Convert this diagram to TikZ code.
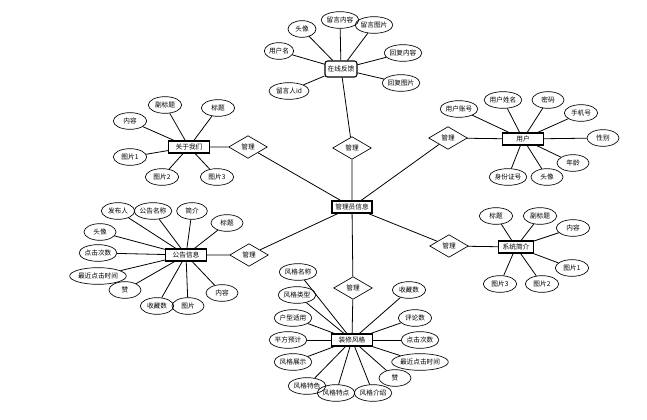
\documentclass[tikz,border=0pt]{standalone}
\usepackage{fontspec}
\newfontfamily\cjk{Noto Sans CJK SC}
\usetikzlibrary{shapes.geometric}

\begin{document}
\begin{tikzpicture}[
        x=0.75pt, y=-0.75pt,
        entity/.style={rectangle, draw, line width=0.8pt, minimum width=31pt, minimum height=9pt, inner sep=1pt, font=\cjk\fontsize{5}{6}\selectfont},
        attr/.style={ellipse, draw, line width=0.5pt, minimum width=27pt, minimum height=12.5pt, inner sep=0pt, font=\cjk\fontsize{5}{6}\selectfont},
        rel/.style={diamond, draw, line width=0.5pt, minimum width=29pt, minimum height=17pt, inner sep=0pt, font=\cjk\fontsize{5}{6}\selectfont},
        link/.style={line width=0.6pt}
    ]
        \useasboundingbox (0,0) rectangle (647,420);

        % centre
        \node[entity, minimum width=30pt] (admin) at (352,207) {管理员信息};

        % online feedback
        \node[entity, rounded corners=2pt, minimum width=24pt, minimum height=12pt] (fb) at (341,69) {在线反馈};
        \node[rel] (rfb) at (352,148) {管理};
        \node[attr, minimum width=22pt] (fbname) at (279,51) {用户名};
        \node[attr, minimum width=21pt] (fbhead) at (302,29) {头像};
        \node[attr] (fbtext) at (340,20) {留言内容};
        \node[attr] (fbpic) at (374,25) {留言图片};
        \node[attr] (fbreply) at (403,53) {回复内容};
        \node[attr] (fbrpic) at (401,83) {回复图片};
        \node[attr, minimum width=30pt] (fbuid) at (289,91) {留言人id};

        % user
        \node[entity] (user) at (523,139) {用户};
        \node[rel] (ruser) at (448,138) {管理};
        \node[attr] (uacc) at (459,109) {用户账号};
        \node[attr] (uname) at (503,100) {用户姓名};
        \node[attr, minimum width=24pt] (upwd) at (548,100) {密码};
        \node[attr, minimum width=25pt] (uphone) at (581,113) {手机号};
        \node[attr, minimum width=24pt] (usex) at (603,138) {性别};
        \node[attr, minimum width=24pt] (uage) at (573,163) {年龄};
        \node[attr, minimum width=24pt] (uhead) at (547,177) {头像};
        \node[attr] (uid) at (508,177) {身份证号};

        % about us
        \node[entity] (about) at (189,147) {关于我们};
        \node[rel] (rabout) at (248,147) {管理};
        \node[attr, minimum width=25pt] (abtext) at (130,121) {内容};
        \node[attr, minimum width=25pt] (absub) at (165,105) {副标题};
        \node[attr, minimum width=25pt] (abtitle) at (218,108) {标题};
        \node[attr, minimum width=25pt] (abpic1) at (130,157) {图片1};
        \node[attr, minimum width=25pt] (abpic2) at (162,177) {图片2};
        \node[attr, minimum width=25pt] (abpic3) at (217,177) {图片3};

        % notice
        \node[entity] (notice) at (186,255) {公告信息};
        \node[rel] (rnotice) at (249,255) {管理};
        \node[attr, minimum width=25pt] (nopub) at (118,211) {发布人};
        \node[attr] (noname) at (153,211) {公告名称};
        \node[attr, minimum width=23pt] (nointro) at (192,211) {简介};
        \node[attr, minimum width=24pt] (notitle) at (227,223) {标题};
        \node[attr, minimum width=24pt] (nohead) at (100,232) {头像};
        \node[attr] (noclick) at (98,253) {点击次数};
        \node[attr, minimum width=39pt] (notime) at (98,276) {最近点击时间};
        \node[attr, minimum width=24pt] (nolike) at (125,290) {赞};
        \node[attr, minimum width=25pt] (nofav) at (157,306) {收藏数};
        \node[attr, minimum width=24pt] (nopic) at (188,306) {图片};
        \node[attr, minimum width=24pt] (notext) at (222,293) {内容};

        % system intro
        \node[entity, minimum width=26pt] (intro) at (516,247) {系统简介};
        \node[rel] (rintro) at (449,246) {管理};
        \node[attr, minimum width=25pt] (intitle) at (496,216) {标题};
        \node[attr, minimum width=25pt] (insub) at (540,216) {副标题};
        \node[attr, minimum width=25pt] (intext) at (573,228) {内容};
        \node[attr, minimum width=25pt] (inpic1) at (572,268) {图片1};
        \node[attr, minimum width=25pt] (inpic2) at (542,284) {图片2};
        \node[attr, minimum width=25pt] (inpic3) at (500,284) {图片3};

        % decoration style
        \node[entity] (style) at (352,340) {装修风格};
        \node[rel] (rstyle) at (353,288) {管理};
        \node[attr] (stname) at (298,272) {风格名称};
        \node[attr] (sttype) at (297,295) {风格类型};
        \node[attr] (stroom) at (293,318) {户型适用};
        \node[attr] (starea) at (288,340) {平方预计};
        \node[attr] (stshow) at (293,362) {风格展示};
        \node[attr] (stfeat) at (307,386) {风格特色};
        \node[attr] (stpoint) at (336,393) {风格特点};
        \node[attr] (stdesc) at (373,393) {风格介绍};
        \node[attr, minimum width=24pt] (stlike) at (395,378) {赞};
        \node[attr, minimum width=39pt] (sttime) at (420,362) {最近点击时间};
        \node[attr] (stclick) at (420,340) {点击次数};
        \node[attr, minimum width=25pt] (stcomm) at (415,318) {评论数};
        \node[attr, minimum width=25pt] (stfav) at (409,290) {收藏数};

        % relations
        \draw[link] (admin) -- (rfb) -- (fb);
        \draw[link] (admin) -- (ruser) -- (user);
        \draw[link] (admin) -- (rabout) -- (about);
        \draw[link] (admin) -- (rnotice) -- (notice);
        \draw[link] (admin) -- (rintro) -- (intro);
        \draw[link] (admin) -- (rstyle) -- (style);

        % attributes
        \foreach \a in {fbname, fbhead, fbtext, fbpic, fbreply, fbrpic, fbuid}
            \draw[link] (fb) -- (\a);
        \foreach \a in {uacc, uname, upwd, uphone, usex, uage, uhead, uid}
            \draw[link] (user) -- (\a);
        \foreach \a in {abtext, absub, abtitle, abpic1, abpic2, abpic3}
            \draw[link] (about) -- (\a);
        \foreach \a in {nopub, noname, nointro, notitle, nohead, noclick, notime, nolike, nofav, nopic, notext}
            \draw[link] (notice) -- (\a);
        \foreach \a in {intitle, insub, intext, inpic1, inpic2, inpic3}
            \draw[link] (intro) -- (\a);
        \foreach \a in {stname, sttype, stroom, starea, stshow, stfeat, stpoint, stdesc, stlike, sttime, stclick, stcomm, stfav}
            \draw[link] (style) -- (\a);
    \end{tikzpicture}
\end{document}
